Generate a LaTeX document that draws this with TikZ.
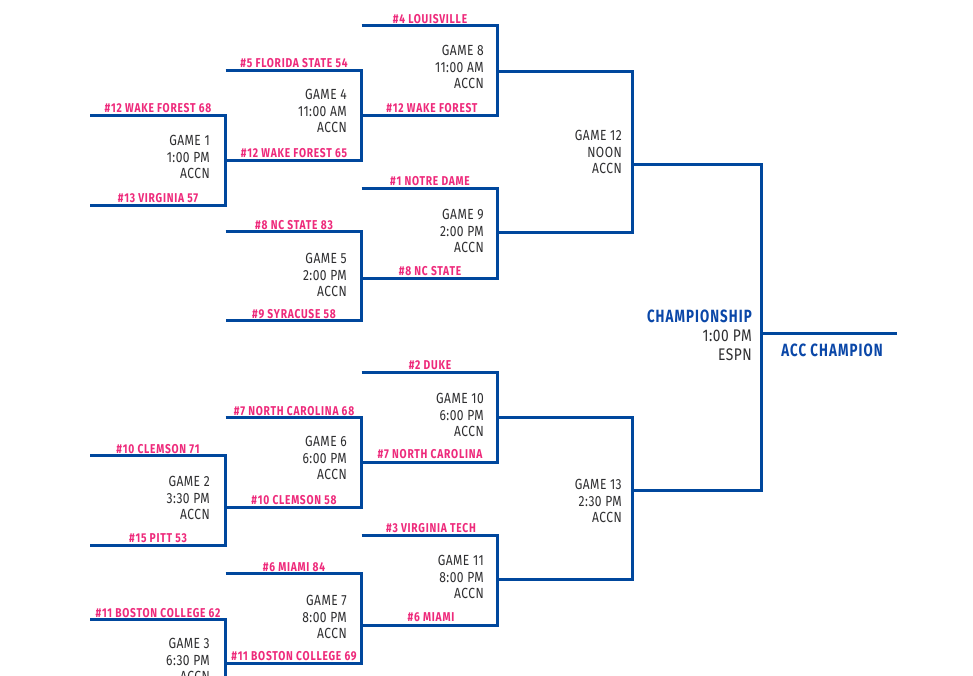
\documentclass[tikz,border=0pt]{standalone}
\usepackage{fontspec}
\setmainfont{Fira Sans}
\newfontfamily\gamefont[FakeStretch=0.82,LetterSpace=3]{Fira Sans}
\newfontfamily\teamfont[FakeStretch=0.8,LetterSpace=6]{Fira Sans Bold}
\newfontfamily\titlefont[FakeStretch=0.75,LetterSpace=6]{Fira Sans Bold}
\definecolor{bracketblue}{HTML}{00479D}
\definecolor{teampink}{HTML}{EE2A7B}
\definecolor{gamegray}{HTML}{2E2E30}
\definecolor{titleblue}{HTML}{0A47A8}
\tikzset{
  bracketline/.style={draw=bracketblue,line width=2.3pt,line join=miter,line cap=butt},
  team/.style={font=\teamfont\fontsize{9.6}{11}\selectfont,text=teampink,inner sep=0pt,anchor=center},
  gameinfo/.style={font=\gamefont\fontsize{11}{12.4}\selectfont,text=gamegray,inner sep=0pt,align=right,anchor=east},
  titletext/.style={font=\titlefont\fontsize{13.3}{15}\selectfont,text=titleblue,inner sep=0pt},
}
% name, left x of top arm, left x of bottom arm, spine x, top y, bottom y
\newcommand{\bracketarm}[6]{%
  \coordinate (#1-a) at (#2,#5+0.5);
  \coordinate (#1-b) at (#4,#5+0.5);
  \coordinate (#1-c) at (#4,#6+0.5);
  \coordinate (#1-d) at (#3,#6+0.5);
  \draw[bracketline] (#1-a) -- (#1-b) -- (#1-c) -- (#1-d);
}
\begin{document}
\begin{tikzpicture}[x=0.75pt,y=-0.75pt]
\useasboundingbox (0,0) rectangle (973,675);
\clip (0,0) rectangle (973,675);
\fill[white] (0,0) rectangle (973,675);
% first round
\bracketarm{g1}{90}{90}{225.5}{115}{205}
\bracketarm{g2}{90}{90}{225.5}{455}{545}
\bracketarm{g3}{90}{90}{225.5}{619}{709}
% second round
\bracketarm{g4}{225.5}{225.5}{361.5}{70}{160}
\bracketarm{g5}{225.5}{225.5}{361.5}{231}{320}
\bracketarm{g6}{225.5}{225.5}{361.5}{417}{507}
\bracketarm{g7}{225.5}{225.5}{361.5}{573}{663}
% third round
\bracketarm{g8}{361.5}{361.5}{497.5}{25}{115}
\bracketarm{g9}{361.5}{361.5}{497.5}{188}{278}
\bracketarm{g10}{361.5}{361.5}{497.5}{372}{462}
\bracketarm{g11}{361.5}{361.5}{497.5}{535}{625}
% semifinals
\bracketarm{g12}{497.5}{497.5}{632.5}{71}{232}
\bracketarm{g13}{497.5}{497.5}{632.5}{417}{579}
% final
\bracketarm{g14}{632.5}{632.5}{761.5}{164}{490}
\coordinate (champjoin) at (761.5,333.5);
\coordinate (champend) at (897,333.5);
\draw[bracketline] (champjoin) -- (champend);
% teams
\node[team] (t01) at (430,19) {\#4 LOUISVILLE};
\node[team] (t02) at (294,63) {\#5 FLORIDA STATE 54};
\node[team] (t03) at (432,108) {\#12 WAKE FOREST};
\node[team] (t04) at (158,108) {\#12 WAKE FOREST 68};
\node[team] (t05) at (294,153) {\#12 WAKE FOREST 65};
\node[team] (t06) at (158,198) {\#13 VIRGINIA 57};
\node[team] (t07) at (430,181) {\#1 NOTRE DAME};
\node[team] (t08) at (294,225) {\#8 NC STATE 83};
\node[team] (t09) at (430,271) {\#8 NC STATE};
\node[team] (t10) at (294,314) {\#9 SYRACUSE 58};
\node[team] (t11) at (430,365) {\#2 DUKE};
\node[team] (t12) at (294,411) {\#7 NORTH CAROLINA 68};
\node[team] (t13) at (430,454) {\#7 NORTH CAROLINA};
\node[team] (t14) at (158,449) {\#10 CLEMSON 71};
\node[team] (t15) at (294,500) {\#10 CLEMSON 58};
\node[team] (t16) at (158,538) {\#15 PITT 53};
\node[team] (t17) at (431,528) {\#3 VIRGINIA TECH};
\node[team] (t18) at (294,567) {\#6 MIAMI 84};
\node[team] (t19) at (431,617) {\#6 MIAMI};
\node[team] (t20) at (158,613) {\#11 BOSTON COLLEGE 62};
\node[team] (t21) at (294,656) {\#11 BOSTON COLLEGE 69};
% games
\node[gameinfo] (i1) at (210,157) {GAME 1\\1:00 PM\\ACCN};
\node[gameinfo] (i2) at (210,498) {GAME 2\\3:30 PM\\ACCN};
\node[gameinfo] (i3) at (210,660) {GAME 3\\6:30 PM\\ACCN};
\node[gameinfo] (i4) at (347,111) {GAME 4\\11:00 AM\\ACCN};
\node[gameinfo] (i5) at (347,275) {GAME 5\\2:00 PM\\ACCN};
\node[gameinfo] (i6) at (347,458) {GAME 6\\6:00 PM\\ACCN};
\node[gameinfo] (i7) at (347,617) {GAME 7\\8:00 PM\\ACCN};
\node[gameinfo] (i8) at (484,67) {GAME 8\\11:00 AM\\ACCN};
\node[gameinfo] (i9) at (484,231) {GAME 9\\2:00 PM\\ACCN};
\node[gameinfo] (i10) at (484,415) {GAME 10\\6:00 PM\\ACCN};
\node[gameinfo] (i11) at (484,577) {GAME 11\\8:00 PM\\ACCN};
\node[gameinfo] (i12) at (622,152) {GAME 12\\NOON\\ACCN};
\node[gameinfo] (i13) at (622,501) {GAME 13\\2:30 PM\\ACCN};
% championship
\node[titletext,anchor=east] (ct) at (752,316) {CHAMPIONSHIP};
\node[gameinfo,font=\gamefont\fontsize{12.6}{14.6}\selectfont] (ci) at (752,345.5) {1:00 PM\\ESPN};
\node[titletext,anchor=center] (cw) at (832,350) {ACC CHAMPION};
\end{tikzpicture}
\end{document}
